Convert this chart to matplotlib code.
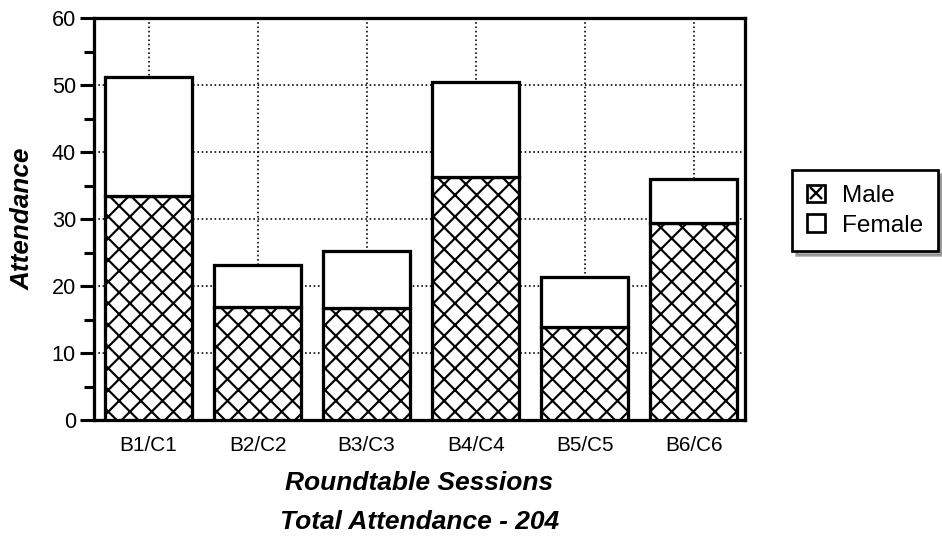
import numpy as np
import matplotlib
matplotlib.use('Agg')
import matplotlib.pyplot as plt
from matplotlib.patches import Patch
from matplotlib.lines import Line2D
from matplotlib.legend_handler import HandlerTuple

plt.rcParams['font.family'] = ['Liberation Sans', 'DejaVu Sans']
plt.rcParams['hatch.linewidth'] = 1.2
plt.rcParams['hatch.color'] = 'black'

# data
sessions = ["B1/C1", "B2/C2", "B3/C3", "B4/C4", "B5/C5", "B6/C6"]
male = [33.5, 16.8, 16.7, 36.2, 13.9, 29.4]
female = [17.7, 6.3, 8.5, 14.3, 7.4, 6.6]
total_attendance = 204

DPI = 130
fig = plt.figure(figsize=(942 / DPI, 541 / DPI), dpi=DPI)
ax = fig.add_axes([94 / 942, 1 - 420 / 541, 651 / 942, 402 / 541])

x = np.arange(len(sessions))
ax.bar(x, male, width=0.8, color='white', edgecolor='black', linewidth=1.8,
       hatch='xx', zorder=3)
ax.bar(x, female, width=0.8, bottom=male, color='white', edgecolor='black',
       linewidth=1.8, zorder=3)

ax.set_xlim(-0.5, 5.47)
ax.set_ylim(0, 60)
ax.set_xticks(x)
ax.set_xticklabels(sessions, fontsize=11.5)
ax.set_yticks(np.arange(0, 61, 10))
ax.set_yticks(np.arange(5, 60, 10), minor=True)
ax.tick_params(axis='x', length=0, pad=9)
ax.tick_params(axis='y', which='major', length=8, width=1.7, labelsize=12, pad=2)
ax.tick_params(axis='y', which='minor', length=5.5, width=1.7)
for s in ax.spines.values():
    s.set_linewidth(1.8)
ax.grid(True, which='major', linestyle=':', linewidth=0.9, color='black', zorder=0)
ax.set_axisbelow(True)

fig.text(23 / 942, 1 - 219 / 541, "Attendance", rotation=90, ha='center', va='center',
         fontsize=14.5, fontweight='bold', fontstyle='italic')

cx = (94 + 745) / 2 / 942
fig.text(cx, 1 - 483 / 541, "Roundtable Sessions", ha='center', va='center',
         fontsize=14.6, fontweight='bold', fontstyle='italic')
fig.text(cx, 1 - 522 / 541, "Total Attendance - %d" % total_attendance, ha='center',
         va='center', fontsize=14.6, fontweight='bold', fontstyle='italic')

# legend: square box, with a single X for the male entry
box_m = Patch(facecolor='white', edgecolor='black', linewidth=1.5)
cross = Line2D([], [], marker='x', color='black', markersize=7, markeredgewidth=1.3,
               linestyle='none')
box_f = Patch(facecolor='white', edgecolor='black', linewidth=1.5)
leg = fig.legend([(box_m, cross), box_f], ["Male", "Female"], loc='upper left',
                 bbox_to_anchor=(792 / 942, 1 - 170 / 541), fontsize=13.5,
                 frameon=True, fancybox=False, edgecolor='black',
                 handlelength=0.75, handleheight=0.75, handletextpad=0.7,
                 labelspacing=0.3, borderpad=0.6, borderaxespad=0,
                 shadow={'color': '0.4'},
                 handler_map={tuple: HandlerTuple(ndivide=1, pad=0)})
leg.get_frame().set_linewidth(1.5)

fig.savefig("out.png", dpi=DPI)
